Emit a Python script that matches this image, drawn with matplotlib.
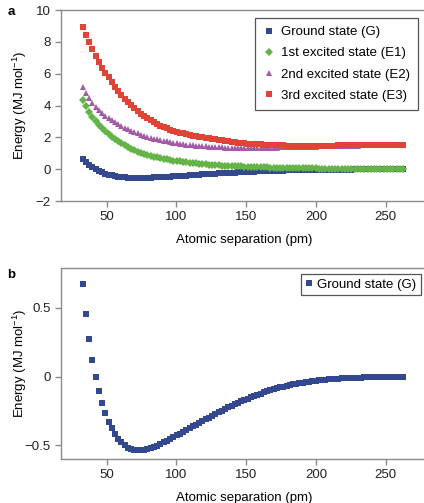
###########################################################
# Energy curves of the ground and first excited states
# as a function of atomic separation (panel a),
# and a close-up of the ground state (panel b)
###########################################################

import matplotlib
matplotlib.use('Agg')
import matplotlib.pyplot as plt

plt.rcParams['font.family'] = ['Liberation Sans', 'DejaVu Sans']
plt.rcParams['mathtext.default'] = 'regular'
plt.rcParams['font.size'] = 9.5

# ATOMIC SEPARATION (pm)
separation = [
    32.8, 35.1, 37.4, 39.8, 42.1, 44.4, 46.7, 49.0, 51.4, 53.7,
    56.0, 58.3, 60.6, 63.0, 65.3, 67.6, 69.9, 72.2, 74.6, 76.9,
    79.2, 81.5, 83.8, 86.2, 88.5, 90.8, 93.1, 95.4, 97.8, 100.1,
    102.4, 104.7, 107.0, 109.4, 111.7, 114.0, 116.3, 118.6, 121.0, 123.3,
    125.6, 127.9, 130.2, 132.6, 134.9, 137.2, 139.5, 141.8, 144.2, 146.5,
    148.8, 151.1, 153.4, 155.8, 158.1, 160.4, 162.7, 165.0, 167.4, 169.7,
    172.0, 174.3, 176.6, 179.0, 181.3, 183.6, 185.9, 188.2, 190.6, 192.9,
    195.2, 197.5, 199.8, 202.2, 204.5, 206.8, 209.1, 211.4, 213.8, 216.1,
    218.4, 220.7, 223.0, 225.4, 227.7, 230.0, 232.3, 234.6, 237.0, 239.3,
    241.6, 243.9, 246.2, 248.6, 250.9, 253.2, 255.5, 257.8, 260.2, 262.5]

# ENERGIES (MJ/mol)
ground = [
    0.672, 0.455, 0.273, 0.121, -0.002, -0.106, -0.193, -0.266, -0.326, -0.374,
    -0.418, -0.452, -0.478, -0.500, -0.515, -0.524, -0.531, -0.534, -0.534, -0.532,
    -0.527, -0.520, -0.511, -0.501, -0.490, -0.478, -0.466, -0.453, -0.440, -0.427,
    -0.414, -0.401, -0.388, -0.375, -0.362, -0.349, -0.336, -0.323, -0.310, -0.297,
    -0.284, -0.272, -0.260, -0.248, -0.236, -0.224, -0.213, -0.202, -0.191, -0.180,
    -0.170, -0.160, -0.150, -0.141, -0.132, -0.123, -0.115, -0.107, -0.099, -0.092,
    -0.085, -0.079, -0.073, -0.067, -0.062, -0.057, -0.052, -0.048, -0.044, -0.040,
    -0.036, -0.033, -0.030, -0.027, -0.025, -0.022, -0.020, -0.018, -0.016, -0.015,
    -0.013, -0.012, -0.011, -0.010, -0.009, -0.008, -0.007, -0.006, -0.006, -0.005,
    -0.005, -0.004, -0.004, -0.003, -0.003, -0.003, -0.002, -0.002, -0.002, -0.002]

excited1 = [
    4.33, 3.97, 3.62, 3.30, 3.01, 2.80, 2.59, 2.40, 2.22, 2.05,
    1.90, 1.76, 1.63, 1.50, 1.39, 1.29, 1.20, 1.12, 1.04, 0.97,
    0.91, 0.85, 0.80, 0.75, 0.70, 0.66, 0.62, 0.59, 0.55, 0.52,
    0.50, 0.47, 0.44, 0.42, 0.40, 0.38, 0.36, 0.34, 0.32, 0.30,
    0.28, 0.27, 0.26, 0.24, 0.23, 0.22, 0.21, 0.20, 0.19, 0.18,
    0.17, 0.16, 0.155, 0.15, 0.14, 0.135, 0.13, 0.12, 0.115, 0.11,
    0.10, 0.095, 0.09, 0.087, 0.083, 0.08, 0.075, 0.07, 0.067, 0.063,
    0.06, 0.056, 0.053, 0.05, 0.047, 0.044, 0.042, 0.04, 0.037, 0.035,
    0.032, 0.03, 0.028, 0.027, 0.025, 0.024, 0.022, 0.021, 0.02, 0.018,
    0.017, 0.016, 0.015, 0.014, 0.013, 0.012, 0.011, 0.011, 0.010, 0.010]

excited2 = [
    5.19, 4.81, 4.46, 4.16, 3.92, 3.72, 3.54, 3.38, 3.22, 3.08,
    2.95, 2.83, 2.72, 2.61, 2.51, 2.42, 2.34, 2.26, 2.18, 2.11,
    2.05, 1.99, 1.93, 1.88, 1.83, 1.79, 1.75, 1.71, 1.67, 1.64,
    1.61, 1.58, 1.55, 1.53, 1.51, 1.49, 1.47, 1.45, 1.44, 1.42,
    1.41, 1.40, 1.39, 1.38, 1.37, 1.365, 1.36, 1.355, 1.35, 1.35,
    1.345, 1.345, 1.345, 1.345, 1.35, 1.35, 1.355, 1.36, 1.36, 1.365,
    1.37, 1.375, 1.38, 1.385, 1.39, 1.395, 1.40, 1.405, 1.41, 1.415,
    1.42, 1.425, 1.43, 1.435, 1.44, 1.445, 1.45, 1.455, 1.46, 1.465,
    1.47, 1.475, 1.48, 1.485, 1.49, 1.495, 1.50, 1.505, 1.51, 1.515,
    1.52, 1.525, 1.53, 1.535, 1.54, 1.54, 1.545, 1.55, 1.55, 1.555]

excited3 = [
    8.95, 8.43, 7.97, 7.53, 7.13, 6.75, 6.38, 6.07, 5.77, 5.48,
    5.19, 4.93, 4.68, 4.43, 4.22, 4.02, 3.82, 3.64, 3.47, 3.33,
    3.20, 3.07, 2.95, 2.84, 2.74, 2.65, 2.57, 2.50, 2.43, 2.37,
    2.31, 2.26, 2.21, 2.16, 2.12, 2.08, 2.04, 2.01, 1.97, 1.94,
    1.91, 1.88, 1.85, 1.82, 1.79, 1.76, 1.73, 1.71, 1.68, 1.66,
    1.64, 1.62, 1.60, 1.59, 1.57, 1.56, 1.55, 1.54, 1.53, 1.52,
    1.51, 1.50, 1.50, 1.49, 1.49, 1.485, 1.48, 1.48, 1.48, 1.48,
    1.48, 1.48, 1.485, 1.485, 1.49, 1.49, 1.49, 1.495, 1.495, 1.50,
    1.50, 1.505, 1.505, 1.51, 1.51, 1.515, 1.515, 1.52, 1.52, 1.525,
    1.525, 1.53, 1.53, 1.535, 1.535, 1.54, 1.54, 1.545, 1.545, 1.55]

labels = ['Ground state (G)', '1st excited state (E1)',
          '2nd excited state (E2)', '3rd excited state (E3)']
yticks_b = [-0.5, 0, 0.5]
yticklabels_b = ['\u22120.5', '0', '0.5']

colors = ['#33488f', '#63b346', '#a35ba8', '#de4536']
markers = ['s', 'D', '^', 's']
msizes = [3.9, 4.0, 4.8, 3.9]
spine_col = '#8a8a8a'


def style_axes(ax):
    ax.spines['right'].set_visible(False)
    for s in ['left', 'bottom', 'top']:
        ax.spines[s].set_color(spine_col)
        ax.spines[s].set_linewidth(1.0)
    ax.tick_params(direction='out', length=4, width=1.0, color=spine_col,
                   labelsize=9.5, labelcolor='#222222', top=False, right=False,
                   pad=3)
    ax.set_xlim(17, 277.5)
    ax.set_xticks([50, 100, 150, 200, 250])
    ax.set_xlabel('Atomic separation (pm)', fontsize=9.5)
    ax.set_ylabel('Energy (MJ mol$^{-1}$)', fontsize=9.5)
    ax.xaxis.set_label_coords(0.504, -0.172)
    ax.yaxis.set_label_coords(-0.088, 0.5)
    ax.xaxis.label.set_va('top')


fig = plt.figure(figsize=(4.24, 5.03), dpi=100)

# ----- PANEL A: ALL STATES
ax1 = fig.add_axes([0.143, 0.600, 0.857, 0.380])
series = [ground, excited1, excited2, excited3]
for yy, c, m, ms, lab in zip(series, colors, markers, msizes, labels):
    ax1.plot(separation, yy, linestyle='none', marker=m, ms=ms,
             color=c, markeredgewidth=0, label=lab)
ax1.set_ylim(-2, 10)
ax1.set_yticks([-2, 0, 2, 4, 6, 8, 10])
style_axes(ax1)
leg = ax1.legend(loc='upper right', bbox_to_anchor=(0.9835, 0.958),
                 borderaxespad=0, fancybox=False, framealpha=1,
                 edgecolor='#555555', fontsize=9.5, numpoints=1,
                 handlelength=0.8, handletextpad=0.55, labelspacing=0.68,
                 borderpad=0.6)
leg.get_frame().set_linewidth(0.9)

# ----- PANEL B: GROUND STATE ONLY
ax2 = fig.add_axes([0.143, 0.0869, 0.857, 0.380])
ax2.plot(separation, ground, linestyle='none', marker='s', ms=3.9,
         color=colors[0], markeredgewidth=0, label=labels[0])
ax2.set_ylim(-0.6, 0.786)
ax2.set_yticks(yticks_b)
ax2.set_yticklabels(yticklabels_b)
style_axes(ax2)
leg2 = ax2.legend(loc='upper right', bbox_to_anchor=(0.992, 0.970),
                  borderaxespad=0, fancybox=False, framealpha=1,
                  edgecolor='#555555', fontsize=9.5, numpoints=1,
                  handlelength=0.5, handletextpad=0.4, borderpad=0.35)
leg2.get_frame().set_linewidth(0.9)

# panel letters
fig.text(0.018, 1 - 12 / 503, 'a', fontsize=9.5, fontweight='bold', va='center')
fig.text(0.018, 1 - 275 / 503, 'b', fontsize=9.5, fontweight='bold', va='center')

fig.savefig('out.png', dpi=100)
